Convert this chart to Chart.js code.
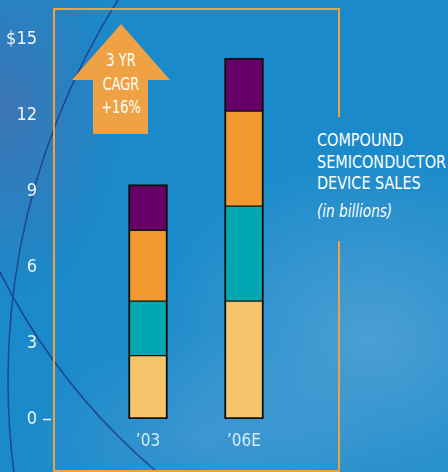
<!DOCTYPE html>
<html>
<head>
<meta charset="utf-8">
<script src="https://cdn.jsdelivr.net/npm/chart.js@4/dist/chart.umd.min.js"></script>
<style>
  html, body { margin: 0; padding: 0; }
  body { width: 448px; height: 472px; overflow: hidden; }
  #wrap {
    position: relative; width: 448px; height: 472px; overflow: hidden;
    background-color: #1a8aca;
    background-image:
      radial-gradient(ellipse 110px 190px at 10px 110px, rgba(75,108,172,0.7), rgba(75,108,172,0) 100%),
      radial-gradient(ellipse 230px 190px at 370px 340px, rgba(125,180,222,0.5), rgba(125,180,222,0) 100%),
      radial-gradient(ellipse 180px 110px at 200px 440px, rgba(105,165,215,0.4), rgba(105,165,215,0) 100%);
    font-family: "Liberation Sans Narrow", "DejaVu Sans Condensed", "Roboto", sans-serif;
    color: #fff;
  }
  #deco, #chart { position: absolute; left: 0; top: 0; }
  .frame { position: absolute; background: #f0a23e; }
  #arrow {
    position: absolute; left: 72px; top: 24px; width: 98px; height: 110px;
    background: #efa244;
    clip-path: polygon(49px 0, 98px 56px, 76px 56px, 76px 110px, 21px 110px, 21px 56px, 0 56px);
  }
  #arrowText {
    position: absolute; left: 72px; top: 48px; width: 98px; text-align: center;
    font-size: 18px; line-height: 23.5px;
    transform: scaleX(0.8); transform-origin: 49px 0;
  }
  #caption {
    position: absolute; left: 317px; top: 129px; font-size: 18px; line-height: 21.5px;
    white-space: nowrap;
    transform: scaleX(0.89); transform-origin: 0 0;
  }
  #caption i { display: block; margin-top: 7px; font-size: 17px; }
</style>
</head>
<body>
<div id="wrap">
  <svg id="deco" width="448" height="472">
    <circle cx="719" cy="380" r="711" fill="none" stroke="#1f4592" stroke-width="1.5"/>
    <circle cx="565" cy="-10" r="631.5" fill="none" stroke="#1f4592" stroke-width="1.5"/>
  </svg>
  <div class="frame" style="left:53px;top:8px;width:287px;height:2px"></div>
  <div class="frame" style="left:53px;top:8px;width:2px;height:464px"></div>
  <div class="frame" style="left:53px;top:470px;width:287px;height:2px"></div>
  <div class="frame" style="left:338px;top:8px;width:2px;height:109px"></div>
  <div class="frame" style="left:338px;top:241px;width:2px;height:231px"></div>
  <div id="arrow"></div>
  <div id="arrowText">3 YR<br>CAGR<br>+16%</div>
  <div id="caption">COMPOUND<br>SEMICONDUCTOR<br>DEVICE SALES<i>(in billions)</i></div>
  <canvas id="chart" width="448" height="472"></canvas>
</div>
<script>
document.addEventListener('DOMContentLoaded', () => {
    // Datos (miles de millones de dólares)
    const years = ["’03", "’06E"];
    const seriesA = [2.5, 4.65];   // amarillo (base)
    const seriesB = [2.15, 3.75];  // turquesa
    const seriesC = [2.8, 3.75];   // naranja
    const seriesD = [1.8, 2.1];    // morado
    const yTicks = [0, 3, 6, 9, 12, 15];

    const colors = ['#f6c46a', '#00a8b2', '#f0992e', '#660066'];
    const layers = [seriesA, seriesB, seriesC, seriesD];
    const labelFont = '"Liberation Sans Narrow", "DejaVu Sans Condensed", sans-serif';

    const borders = (i) => ({
        left: 2, right: 2,
        top: i === layers.length - 1 ? 2 : 1,
        bottom: i === 0 ? 2 : 1
    });

    // marca "–" junto al cero
    const zeroDash = {
        id: 'zeroDash',
        afterDraw(chart) {
            const y = chart.scales.y.getPixelForValue(0);
            const c = chart.ctx;
            c.save();
            c.strokeStyle = '#eef6fb';
            c.lineWidth = 1.5;
            c.beginPath();
            c.moveTo(43, y + 0.5);
            c.lineTo(51, y + 0.5);
            c.stroke();
            c.restore();
        }
    };

    const ctx = document.getElementById('chart').getContext('2d');
    new Chart(ctx, {
        type: 'bar',
        data: {
            labels: years,
            datasets: layers.map((d, i) => ({
                data: d,
                backgroundColor: colors[i],
                borderColor: '#111',
                borderWidth: borders(i),
                borderSkipped: false,
                barThickness: 39
            }))
        },
        options: {
            responsive: false,
            animation: false,
            layout: { padding: { top: 39, right: 156, left: 0, bottom: 0 } },
            plugins: { legend: { display: false }, tooltip: { enabled: false } },
            scales: {
                x: {
                    stacked: true,
                    grid: { display: false, drawTicks: false },
                    border: { display: false },
                    ticks: {
                        color: '#d6ecf7',
                        padding: 12,
                        font: { family: labelFont, size: 17 }
                    },
                    afterFit: (axis) => {
                        axis.height = 53;
                        axis.paddingLeft = 0;
                        axis.paddingRight = 0;
                    }
                },
                y: {
                    stacked: true,
                    min: 0,
                    max: 15,
                    grid: { display: false, drawTicks: false },
                    border: { display: false },
                    afterBuildTicks: (axis) => { axis.ticks = yTicks.map(v => ({ value: v })); },
                    ticks: {
                        color: '#eef6fb',
                        padding: 63,
                        font: { family: labelFont, size: 18 },
                        callback: (v) => v === 15 ? '$15' : v
                    },
                    afterFit: (axis) => {
                        axis.width = 100;
                        axis.paddingTop = 0;
                        axis.paddingBottom = 0;
                    }
                }
            }
        },
        plugins: [zeroDash]
    });
});
</script>
</body>
</html>
